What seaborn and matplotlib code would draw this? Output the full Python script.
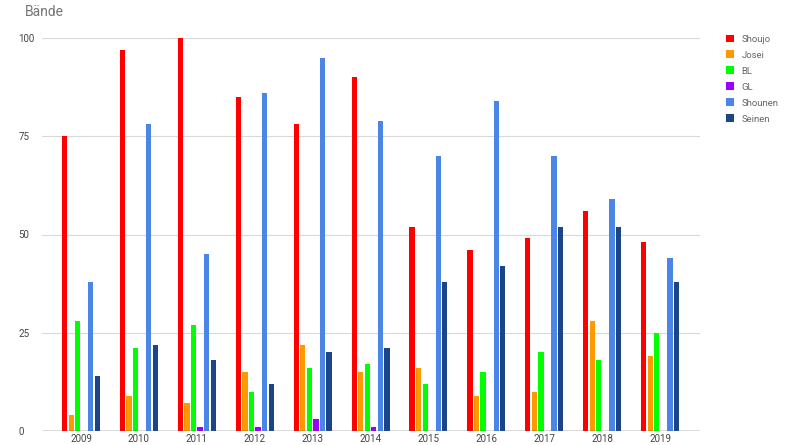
import pandas as pd
import matplotlib
matplotlib.use("Agg")
import matplotlib.pyplot as plt
import seaborn as sns
from matplotlib.patches import Patch

# Manga volumes per year and genre
years = ["2009", "2010", "2011", "2012", "2013", "2014", "2015", "2016", "2017", "2018", "2019"]
shoujo = [75, 97, 100, 85, 78, 90, 52, 46, 49, 56, 48]
josei = [4, 9, 7, 15, 22, 15, 16, 9, 10, 28, 19]
bl = [28, 21, 27, 10, 16, 17, 12, 15, 20, 18, 25]
gl = [0, 0, 1, 1, 3, 1, 0, 0, 0, 0, 0]
shounen = [38, 78, 45, 86, 95, 79, 70, 84, 70, 59, 44]
seinen = [14, 22, 18, 12, 20, 21, 38, 42, 52, 52, 38]

genres = ["Shoujo", "Josei", "BL", "GL", "Shounen", "Seinen"]
colors = ["#ff0000", "#ff9900", "#00ff00", "#9900ff", "#4a86e8", "#1c4587"]
series = [shoujo, josei, bl, gl, shounen, seinen]

rows = []
for g, vals in zip(genres, series):
    for y, v in zip(years, vals):
        rows.append({"Jahr": y, "Genre": g, "Bände": v})
df = pd.DataFrame(rows)

sns.set_style("white")
plt.rcParams["font.family"] = ["Roboto", "DejaVu Sans"]

fig = plt.figure(figsize=(8, 4.45), dpi=100)
ax = fig.add_axes([42 / 800, 1 - 431 / 445, 658 / 800, 393 / 445])

sns.barplot(data=df, x="Jahr", y="Bände", hue="Genre", hue_order=genres,
            palette=colors, width=0.68, gap=0.2, saturation=1,
            edgecolor="none", linewidth=0,
            errorbar=None, ax=ax, legend=False, zorder=3)

ax.set_ylim(0, 100)
ax.set_xlim(-0.674, 10.69)
ax.set_yticks([0, 25, 50, 75, 100])
ax.yaxis.grid(True, color="#d9d9d9", linewidth=0.8, zorder=0)
ax.axhline(0, color="#555555", linewidth=1, zorder=4)
for s in ax.spines.values():
    s.set_visible(False)
ax.tick_params(axis="both", length=0, labelsize=7, labelcolor="#444444")
ax.tick_params(axis="x", pad=2)
ax.tick_params(axis="y", pad=17)
for lab in ax.get_yticklabels():
    lab.set_horizontalalignment("left")
ax.set_xlabel("")
ax.set_ylabel("")

fig.text(25 / 800, 1 - 12 / 445, "Bände", fontsize=10, color="#757575",
         va="center", ha="left")

handles = [Patch(facecolor=c, edgecolor="none", label=g) for g, c in zip(genres, colors)]
leg = fig.legend(handles=handles, loc="upper left", bbox_to_anchor=(717 / 800, 1 - 26 / 445),
                 frameon=False, fontsize=6.8, handlelength=0.9, handleheight=0.9,
                 handletextpad=0.8, labelspacing=0.72)
for t in leg.get_texts():
    t.set_color("#666666")

fig.savefig("out.png", dpi=100)
